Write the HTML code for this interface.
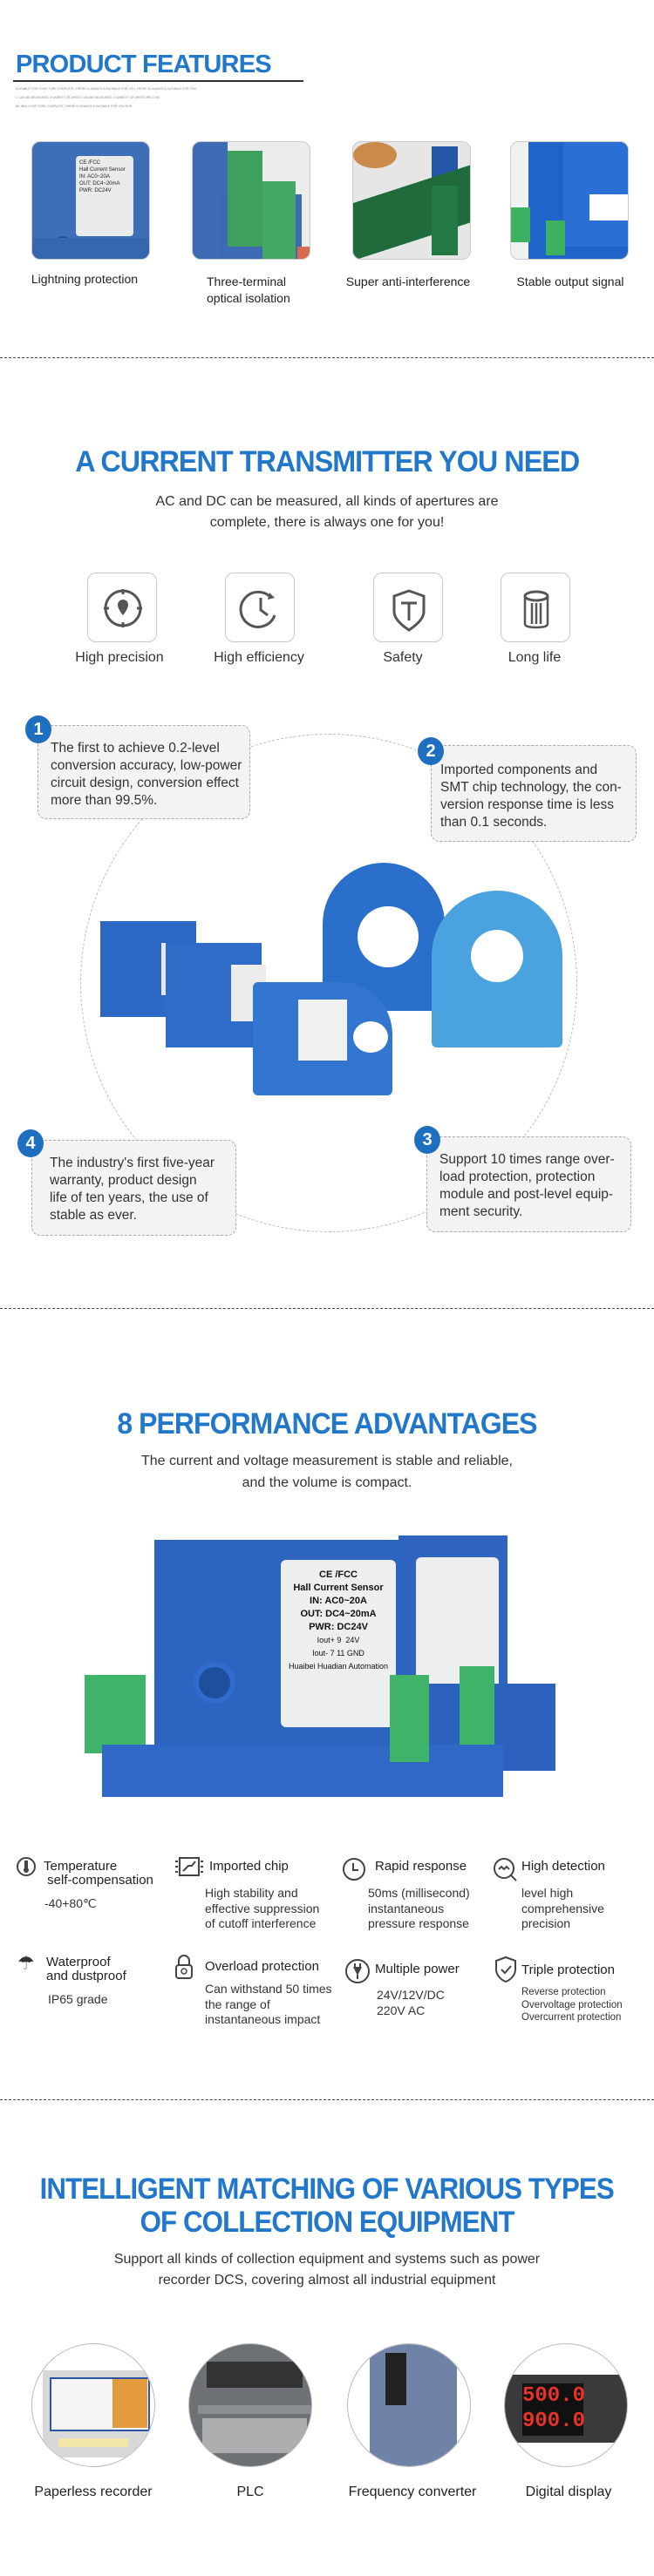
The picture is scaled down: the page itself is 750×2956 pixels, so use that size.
<!DOCTYPE html>
<html><head><meta charset="utf-8">
<style>
*{margin:0;padding:0;box-sizing:border-box}
body{width:750px;height:2956px;background:#fff;position:relative;overflow:hidden;font-family:"Liberation Sans",sans-serif;color:#333}
.a{position:absolute}
.t{position:absolute;white-space:nowrap;line-height:1}
.blue{color:#2177c9}
.h{font-size:34px;letter-spacing:-1px;left:0;width:750px;text-align:center;font-weight:bold}
.h span{display:inline-block}
.dash{position:absolute;left:0;width:750px;border-top:1.5px dashed #444}
.ph{position:absolute;width:136px;height:136px;border:1px solid #ccc;border-radius:10px;overflow:hidden;background:#eee}
.lbl{font-size:14px;color:#222;text-align:center}
.ibox{position:absolute;width:80px;height:80px;border:1.5px solid #c8c8c8;border-radius:10px;top:657px}
.call{position:absolute;background:#f3f3f3;border:1.5px dashed #aaa;border-radius:10px;font-size:15.5px;line-height:20px;color:#333;padding:0 0 0 14px}
.badge{position:absolute;width:30px;height:32px;border-radius:50%;background:#1f6fc0;color:#fff;font-weight:bold;font-size:20px;text-align:center;line-height:32px}
.ft{font-size:15px;color:#222;line-height:16px}
.fd{font-size:14px;color:#333;line-height:17.5px}
.circ{position:absolute;width:142px;height:142px;border-radius:50%;border:1px solid #bbb;overflow:hidden;top:2689px}
</style></head><body>

<!-- Section 1 -->
<div class="t blue" style="left:18px;top:60px;font-size:29px;font-weight:bold;letter-spacing:-0.8px">PRODUCT FEATURES</div>
<div class="a" style="left:15px;top:92px;width:333px;height:1.5px;background:#333"></div>
<div class="t" style="left:18px;top:101px;font-size:3.5px;color:#888">SUITABLE FOR YOUR TURE COMPLETE, THERE IS ALWAYS A SUITABLE FOR YOU, THERE IS ALWAYS A SUITABLE FOR YOU</div>
<div class="t" style="left:18px;top:111px;font-size:3.5px;color:#888">C CAN BE MEASURED, A VARIETY OF APEDC CAN BE MEASURED, A VARIETY OF APERTURE COM</div>
<div class="t" style="left:18px;top:121px;font-size:3.5px;color:#888">BE MEA YOUR TURE COMPLETE, THERE IS ALWAYS A SUITABLE FOR YOU SUR</div>

<div class="ph" style="left:36px;top:162px;background:#3d6fb8">
  <div class="a" style="left:50px;top:16px;width:66px;height:92px;background:#e9eaea;border-radius:4px;font-size:6px;line-height:8px;color:#222;padding:4px">CE /FCC<br>Hall Current Sensor<br>IN: AC0~20A<br>OUT: DC4~20mA<br>PWR: DC24V</div>
  <div class="a" style="left:24px;top:108px;width:22px;height:24px;border-radius:50%;background:#1d4d96"></div>
  <div class="a" style="left:0;top:110px;width:136px;height:26px;background:#3566b0"></div>
</div>
<div class="ph" style="left:220px;top:162px;background:#ececec">
  <div class="a" style="left:0;top:0;width:40px;height:136px;background:#3e6cb4"></div>
  <div class="a" style="left:30px;top:60px;width:95px;height:76px;background:#3d6ab2"></div>
  <div class="a" style="left:40px;top:10px;width:40px;height:110px;background:#3fa05d"></div>
  <div class="a" style="left:80px;top:45px;width:38px;height:90px;background:#45a865"></div>
  <div class="a" style="left:120px;top:120px;width:16px;height:16px;background:#d9694f"></div>
</div>
<div class="ph" style="left:404px;top:162px;background:#e6e6e6">
  <div class="a" style="left:0;top:0;width:50px;height:30px;border-radius:50%;background:#c98a4a"></div>
  <div class="a" style="left:90px;top:5px;width:30px;height:60px;background:#2457a8"></div>
  <div class="a" style="left:0;top:70px;width:136px;height:66px;background:#1f6b3b;transform:skewY(-18deg);transform-origin:0 100%"></div>
  <div class="a" style="left:90px;top:50px;width:30px;height:80px;background:#247a45"></div>
</div>
<div class="ph" style="left:585px;top:162px;background:#f1f1f1">
  <div class="a" style="left:20px;top:0;width:116px;height:136px;background:#1f64c9"></div>
  <div class="a" style="left:60px;top:0;width:76px;height:120px;background:#2a70d4"></div>
  <div class="a" style="left:0;top:75px;width:22px;height:40px;background:#3db15f"></div>
  <div class="a" style="left:40px;top:90px;width:22px;height:40px;background:#3db15f"></div>
  <div class="a" style="left:90px;top:60px;width:44px;height:30px;background:#fff"></div>
</div>
<div class="t lbl" style="left:27px;top:313px;width:140px">Lightning protection</div>
<div class="t" style="left:237px;top:314px;font-size:14px;color:#222;line-height:19px">Three-terminal<br>optical isolation</div>
<div class="t lbl" style="left:393px;top:316px;width:150px">Super anti-interference</div>
<div class="t lbl" style="left:584px;top:316px;width:140px">Stable output signal</div>
<div class="dash" style="top:410px"></div>

<!-- Section 2 -->
<div class="t blue h" style="top:513px"><span style="transform:scaleX(0.95)">A CURRENT TRANSMITTER YOU NEED</span></div>
<div class="t" style="left:0;width:750px;text-align:center;top:564px;font-size:16px;line-height:24px;color:#333">AC and DC can be measured, all kinds of apertures are<br>complete, there is always one for you!</div>

<div class="ibox" style="left:100px"><svg width="80" height="80" viewBox="0 0 80 80"><circle cx="40" cy="40" r="20" fill="none" stroke="#555" stroke-width="3"/><path d="M40 30a6 6 0 0 1 6 6c0 5-6 12-6 12s-6-7-6-12a6 6 0 0 1 6-6z" fill="#555"/><path d="M40 18v6M40 56v6M18 40h6M56 40h6" stroke="#555" stroke-width="3"/></svg></div>
<div class="ibox" style="left:258px"><svg width="80" height="80" viewBox="0 0 80 80"><path d="M52 28a20 20 0 1 0 4 20" fill="none" stroke="#555" stroke-width="3"/><path d="M40 28v14l8 6" fill="none" stroke="#555" stroke-width="3"/><path d="M50 22l6 6-8 2z" fill="#555"/></svg></div>
<div class="ibox" style="left:428px"><svg width="80" height="80" viewBox="0 0 80 80"><path d="M40 20l17 6v18c0 8-8 15-17 21-9-6-17-13-17-21V26z" fill="none" stroke="#555" stroke-width="3"/><path d="M31 34h18M40 34v20" stroke="#555" stroke-width="3"/></svg></div>
<div class="ibox" style="left:574px"><svg width="80" height="80" viewBox="0 0 80 80"><ellipse cx="40" cy="26" rx="13" ry="5" fill="none" stroke="#555" stroke-width="3"/><path d="M27 26v32c0 3 6 4 13 4s13-1 13-4V26M35 34v24M40 34v24M45 34v24" fill="none" stroke="#555" stroke-width="2.5"/></svg></div>
<div class="t" style="left:77px;top:747px;width:120px;text-align:center;font-size:16px;color:#333">High precision</div>
<div class="t" style="left:237px;top:747px;width:120px;text-align:center;font-size:16px;color:#333">High efficiency</div>
<div class="t" style="left:402px;top:747px;width:120px;text-align:center;font-size:16px;color:#333">Safety</div>
<div class="t" style="left:553px;top:747px;width:120px;text-align:center;font-size:16px;color:#333">Long life</div>

<div class="a" style="left:92px;top:842px;width:570px;height:572px;border-radius:50%;border:1.5px dashed #bbb"></div>
<div class="a" style="left:105px;top:982px;width:555px;height:290px">
  <div class="a" style="left:265px;top:8px;width:140px;height:170px;border-radius:70px 70px 10px 10px;background:#2a6fc9"></div>
  <div class="a" style="left:305px;top:58px;width:70px;height:70px;border-radius:50%;background:#fff"></div>
  <div class="a" style="left:390px;top:40px;width:150px;height:180px;border-radius:75px 75px 6px 6px;background:#4aa3df"></div>
  <div class="a" style="left:435px;top:85px;width:60px;height:60px;border-radius:50%;background:#fff"></div>
  <div class="a" style="left:10px;top:75px;width:110px;height:110px;background:#2d68c4"></div>
  <div class="a" style="left:80px;top:100px;width:35px;height:60px;background:#e8e8e8"></div>
  <div class="a" style="left:85px;top:100px;width:110px;height:120px;background:#2f6cc8"></div>
  <div class="a" style="left:160px;top:125px;width:40px;height:65px;background:#ececec"></div>
  <div class="a" style="left:185px;top:145px;width:160px;height:130px;border-radius:6px 60px 6px 6px;background:#3276cf"></div>
  <div class="a" style="left:237px;top:165px;width:56px;height:70px;background:#f0f0f0"></div>
  <div class="a" style="left:300px;top:190px;width:40px;height:36px;border-radius:50%;background:#fff"></div>
</div>

<div class="call" style="left:43px;top:832px;width:244px;height:108px;padding-top:16px">The first to achieve 0.2-level<br>conversion accuracy, low-power<br>circuit design, conversion effect<br>more than 99.5%.</div>
<div class="badge" style="left:29px;top:821px">1</div>
<div class="call" style="left:494px;top:855px;width:236px;height:111px;padding-top:18px;padding-left:10px">Imported components and<br>SMT chip technology, the con-<br>version response time is less<br>than 0.1 seconds.</div>
<div class="badge" style="left:479px;top:846px">2</div>
<div class="call" style="left:36px;top:1308px;width:235px;height:110px;padding-top:16px;padding-left:20px">The industry's first five-year<br>warranty, product design<br>life of ten years, the use of<br>stable as ever.</div>
<div class="badge" style="left:20px;top:1296px">4</div>
<div class="call" style="left:489px;top:1304px;width:235px;height:110px;padding-top:16px;padding-left:14px">Support 10 times range over-<br>load protection, protection<br>module and post-level equip-<br>ment security.</div>
<div class="badge" style="left:475px;top:1292px">3</div>
<div class="dash" style="top:1501px"></div>

<!-- Section 3 -->
<div class="t blue h" style="top:1617px"><span style="transform:scaleX(0.94)">8 PERFORMANCE ADVANTAGES</span></div>
<div class="t" style="left:0;width:750px;text-align:center;top:1664px;font-size:16px;line-height:25px;color:#333">The current and voltage measurement is stable and reliable,<br>and the volume is compact.</div>
<div class="a" style="left:97px;top:1762px;width:555px;height:304px">
  <div class="a" style="left:360px;top:0;width:125px;height:250px;background:#2f64bf"></div>
  <div class="a" style="left:380px;top:25px;width:95px;height:175px;background:#eceeef;border-radius:6px"></div>
  <div class="a" style="left:330px;top:170px;width:210px;height:100px;background:#2c62bd"></div>
  <div class="a" style="left:430px;top:150px;width:40px;height:90px;background:#3fb369"></div>
  <div class="a" style="left:0;top:160px;width:70px;height:90px;background:#3fb369"></div>
  <div class="a" style="left:80px;top:5px;width:285px;height:255px;background:#2d64c0"></div>
  <div class="a" style="left:225px;top:28px;width:132px;height:192px;background:#eceeef;border-radius:6px;font-size:11px;line-height:15px;color:#111;font-weight:bold;text-align:center;padding-top:10px">CE /FCC<br>Hall Current Sensor<br>IN: AC0~20A<br>OUT: DC4~20mA<br>PWR: DC24V<br><span style="font-weight:normal;font-size:9px">Iout+ 9 &nbsp;24V<br>Iout- 7 11 GND<br>Huaibei Huadian Automation</span></div>
  <div class="a" style="left:125px;top:145px;width:48px;height:48px;border-radius:50%;background:#1e4f9e;border:6px solid #2f6ccc"></div>
  <div class="a" style="left:20px;top:240px;width:460px;height:60px;background:#2f68c6"></div>
  <div class="a" style="left:350px;top:160px;width:45px;height:100px;background:#3fb369"></div>
</div>

<svg class="a" style="left:18px;top:2130px" width="24" height="24"><circle cx="12" cy="12" r="10" fill="none" stroke="#444" stroke-width="2"/><rect x="10" y="5" width="4" height="10" fill="#444"/><circle cx="12" cy="16" r="3" fill="#444"/></svg>
<div class="t ft" style="left:50px;top:2134px">Temperature<br>&nbsp;self-compensation</div>
<div class="t fd" style="left:51px;top:2176px">-40+80℃</div>
<svg class="a" style="left:201px;top:2130px" width="32" height="24"><rect x="5" y="2" width="22" height="20" fill="none" stroke="#444" stroke-width="2"/><path d="M9 17l6-6h4l4-5" fill="none" stroke="#444" stroke-width="2"/><path d="M0 6h3M0 12h3M0 18h3M29 6h3M29 12h3M29 18h3" stroke="#444" stroke-width="2"/></svg>
<div class="t ft" style="left:240px;top:2134px">Imported chip</div>
<div class="t fd" style="left:235px;top:2164px">High stability and<br>effective suppression<br>of cutoff interference</div>
<svg class="a" style="left:392px;top:2131px" width="28" height="28"><circle cx="14" cy="14" r="12" fill="none" stroke="#444" stroke-width="2"/><path d="M13 7v8h6" fill="none" stroke="#444" stroke-width="2"/></svg>
<div class="t ft" style="left:430px;top:2134px">Rapid response</div>
<div class="t fd" style="left:422px;top:2164px">50ms (millisecond)<br>instantaneous<br>pressure response</div>
<svg class="a" style="left:565px;top:2131px" width="30" height="30"><circle cx="13" cy="13" r="11" fill="none" stroke="#444" stroke-width="2"/><path d="M21 21l6 6M7 14l3-3 3 3 3-3 3 3" fill="none" stroke="#444" stroke-width="2"/></svg>
<div class="t ft" style="left:598px;top:2134px">High detection</div>
<div class="t fd" style="left:598px;top:2164px">level high<br>comprehensive<br>precision</div>

<div class="t" style="left:20px;top:2242px;font-size:22px;color:#333">☂</div>
<div class="t ft" style="left:53px;top:2244px">Waterproof<br>and dustproof</div>
<div class="t fd" style="left:55px;top:2286px">IP65 grade</div>
<svg class="a" style="left:200px;top:2242px" width="22" height="30"><path d="M5 13V8a6 6 0 0 1 12 0v5" fill="none" stroke="#444" stroke-width="2"/><rect x="2" y="13" width="18" height="15" rx="3" fill="none" stroke="#444" stroke-width="2"/><circle cx="11" cy="20" r="3" fill="none" stroke="#444" stroke-width="1.5"/></svg>
<div class="t ft" style="left:235px;top:2249px">Overload protection</div>
<div class="t fd" style="left:235px;top:2274px">Can withstand 50 times<br>the range of<br>instantaneous impact</div>
<svg class="a" style="left:395px;top:2247px" width="30" height="30"><circle cx="15" cy="15" r="13" fill="none" stroke="#444" stroke-width="2"/><path d="M10 10h10l-5 10z" fill="#444"/><path d="M12 6v5M18 6v5M15 19v5" stroke="#444" stroke-width="2"/></svg>
<div class="t ft" style="left:430px;top:2252px">Multiple power</div>
<div class="t fd" style="left:432px;top:2281px">24V/12V/DC<br>220V AC</div>
<svg class="a" style="left:567px;top:2244px" width="26" height="32"><path d="M13 2l11 4v10c0 7-6 12-11 14C8 28 2 23 2 16V6z" fill="none" stroke="#444" stroke-width="2"/><path d="M8 16l4 4 7-8" fill="none" stroke="#444" stroke-width="2"/></svg>
<div class="t ft" style="left:598px;top:2253px">Triple protection</div>
<div class="t" style="left:598px;top:2279px;font-size:11.5px;line-height:14.5px;color:#333">Reverse protection<br>Overvoltage protection<br>Overcurrent protection</div>
<div class="dash" style="top:2409px"></div>

<!-- Section 4 -->
<div class="t blue h" style="top:2495px"><span style="transform:scaleX(0.92)">INTELLIGENT MATCHING OF VARIOUS TYPES</span></div>
<div class="t blue h" style="top:2533px"><span style="transform:scaleX(0.92)">OF COLLECTION EQUIPMENT</span></div>
<div class="t" style="left:0;width:750px;text-align:center;top:2581px;font-size:16px;line-height:24px;color:#333">Support all kinds of collection equipment and systems such as power<br>recorder DCS, covering almost all industrial equipment</div>

<div class="circ" style="left:36px;background:#fff">
  <div class="a" style="left:12px;top:30px;width:120px;height:100px;background:#d8d8d8"></div>
  <div class="a" style="left:20px;top:38px;width:115px;height:62px;background:#f4f4f4;border:2px solid #2b56a8"></div>
  <div class="a" style="left:92px;top:40px;width:40px;height:56px;background:#e39b3b"></div>
  <div class="a" style="left:30px;top:108px;width:80px;height:10px;background:#f0e7a8"></div>
</div>
<div class="circ" style="left:216px;background:#6d7175">
  <div class="a" style="left:20px;top:20px;width:110px;height:30px;background:#333"></div>
  <div class="a" style="left:10px;top:70px;width:130px;height:10px;background:#8a8e92"></div>
  <div class="a" style="left:15px;top:85px;width:120px;height:40px;background:#c9c9c9;opacity:.7"></div>
</div>
<div class="circ" style="left:398px;background:#fff">
  <div class="a" style="left:25px;top:0;width:100px;height:142px;background:#6f83a6"></div>
  <div class="a" style="left:43px;top:10px;width:24px;height:60px;background:#222"></div>
</div>
<div class="circ" style="left:578px;background:#fff">
  <div class="a" style="left:0;top:35px;width:142px;height:78px;background:#3a3a3c"></div>
  <div class="a" style="left:20px;top:45px;width:70px;height:60px;background:#111;color:#e8332a;font:bold 24px/29px 'Liberation Mono',monospace;text-align:center">500.0<br>900.0</div>
</div>
<div class="t" style="left:17px;top:2852px;width:180px;text-align:center;font-size:16px;color:#222">Paperless recorder</div>
<div class="t" style="left:197px;top:2852px;width:180px;text-align:center;font-size:16px;color:#222">PLC</div>
<div class="t" style="left:383px;top:2852px;width:180px;text-align:center;font-size:16px;color:#222">Frequency converter</div>
<div class="t" style="left:562px;top:2852px;width:180px;text-align:center;font-size:16px;color:#222">Digital display</div>
</body></html>
